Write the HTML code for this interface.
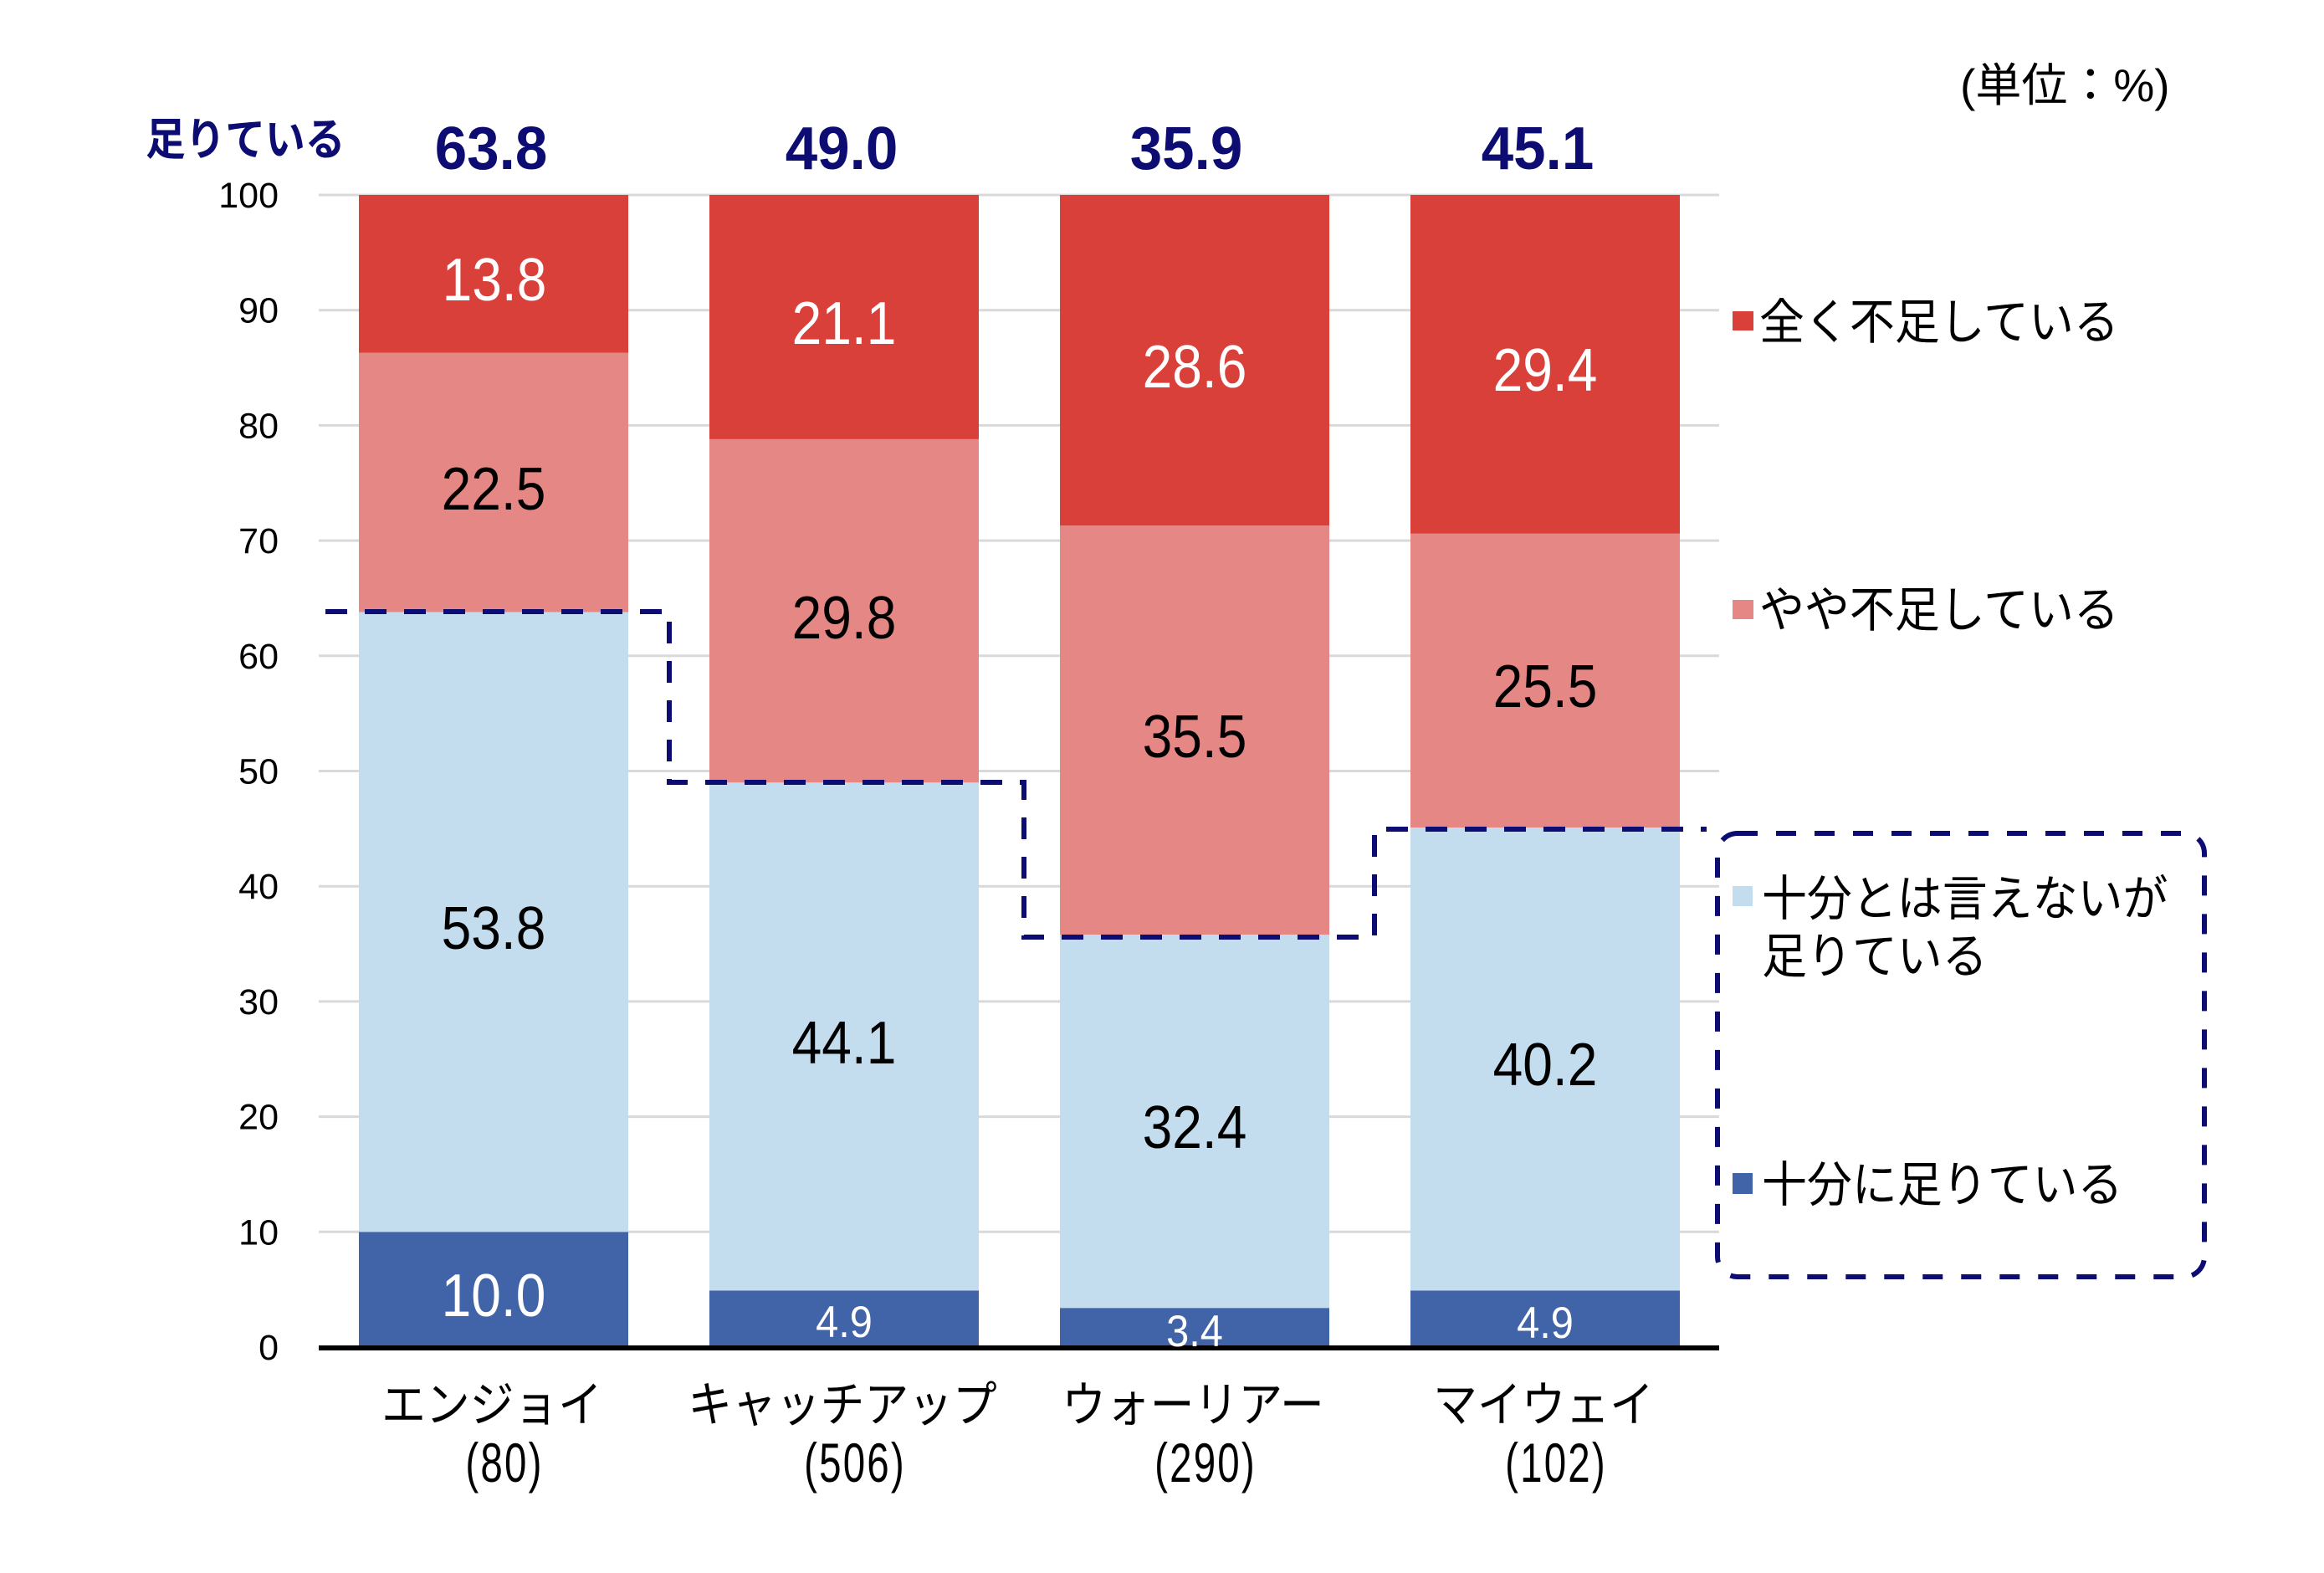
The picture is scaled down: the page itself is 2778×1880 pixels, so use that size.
<!DOCTYPE html>
<html>
<head>
<meta charset="utf-8">
<style>
  html,body{margin:0;padding:0;background:#fff;}
  svg{display:block;}
  text{font-family:"Liberation Sans","Noto Sans CJK JP",sans-serif;}
</style>
</head>
<body>
<svg width="2778" height="1880" viewBox="0 0 2778 1880" xmlns="http://www.w3.org/2000/svg">
  <rect x="0" y="0" width="2778" height="1880" fill="#ffffff"/>

  <!-- gridlines -->
  <g stroke="#d9d9d9" stroke-width="3">
    <line x1="381" y1="233" x2="2055" y2="233"/>
    <line x1="381" y1="370.7" x2="2055" y2="370.7"/>
    <line x1="381" y1="508.4" x2="2055" y2="508.4"/>
    <line x1="381" y1="646.1" x2="2055" y2="646.1"/>
    <line x1="381" y1="783.8" x2="2055" y2="783.8"/>
    <line x1="381" y1="921.5" x2="2055" y2="921.5"/>
    <line x1="381" y1="1059.2" x2="2055" y2="1059.2"/>
    <line x1="381" y1="1196.9" x2="2055" y2="1196.9"/>
    <line x1="381" y1="1334.6" x2="2055" y2="1334.6"/>
    <line x1="381" y1="1472.3" x2="2055" y2="1472.3"/>
  </g>

  <!-- bars -->
  <!-- Bar 1 -->
  <rect x="429" y="1472.3" width="322" height="137.7" fill="#4163a7"/>
  <rect x="429" y="731.5" width="322" height="740.8" fill="#c3ddef"/>
  <rect x="429" y="421.7" width="322" height="309.8" fill="#e58885"/>
  <rect x="429" y="233" width="322" height="188.7" fill="#d9403a"/>
  <!-- Bar 2 -->
  <rect x="848" y="1542.5" width="322" height="67.5" fill="#4163a7"/>
  <rect x="848" y="935.3" width="322" height="607.2" fill="#c3ddef"/>
  <rect x="848" y="524.9" width="322" height="410.4" fill="#e58885"/>
  <rect x="848" y="233" width="322" height="291.9" fill="#d9403a"/>
  <!-- Bar 3 -->
  <rect x="1267" y="1563.2" width="322" height="46.8" fill="#4163a7"/>
  <rect x="1267" y="1117" width="322" height="446.2" fill="#c3ddef"/>
  <rect x="1267" y="628.2" width="322" height="488.8" fill="#e58885"/>
  <rect x="1267" y="233" width="322" height="395.2" fill="#d9403a"/>
  <!-- Bar 4 -->
  <rect x="1686" y="1542.5" width="322" height="67.5" fill="#4163a7"/>
  <rect x="1686" y="989" width="322" height="553.5" fill="#c3ddef"/>
  <rect x="1686" y="637.8" width="322" height="351.2" fill="#e58885"/>
  <rect x="1686" y="233" width="322" height="404.8" fill="#d9403a"/>

  <!-- x axis -->
  <line x1="381" y1="1611" x2="2055" y2="1611" stroke="#000" stroke-width="6"/>

  <!-- dashed outline -->
  <polyline points="389,731 800,731 800,935 1224,935 1224,1120 1643,1120 1643,991 2040,991"
    fill="none" stroke="#0c0c73" stroke-width="6" stroke-dasharray="26 21"/>

  <!-- legend dashed box -->
  <rect x="2053" y="996" width="582" height="530" rx="24" ry="24" fill="none"
    stroke="#0c0c73" stroke-width="6" stroke-dasharray="24 22"/>

  <!-- y tick labels -->
  <g font-size="43" fill="#000" text-anchor="end">
    <text x="333" y="248">100</text>
    <text x="333" y="385.7">90</text>
    <text x="333" y="523.4">80</text>
    <text x="333" y="661.1">70</text>
    <text x="333" y="798.8">60</text>
    <text x="333" y="936.5">50</text>
    <text x="333" y="1074.2">40</text>
    <text x="333" y="1211.9">30</text>
    <text x="333" y="1349.6">20</text>
    <text x="333" y="1487.3">10</text>
    <text x="333" y="1625">0</text>
  </g>

  <!-- data labels -->
  <g font-size="72" text-anchor="middle">
    <!-- bar 1 -->
    <text transform="translate(591,359) scale(0.89,1)" fill="#fff">13.8</text>
    <text transform="translate(590,609) scale(0.89,1)" fill="#000">22.5</text>
    <text transform="translate(590,1134) scale(0.89,1)" fill="#000">53.8</text>
    <text transform="translate(590,1573) scale(0.89,1)" fill="#fff">10.0</text>
    <!-- bar 2 -->
    <text transform="translate(1009,411) scale(0.89,1)" fill="#fff">21.1</text>
    <text transform="translate(1009,763) scale(0.89,1)" fill="#000">29.8</text>
    <text transform="translate(1009,1271) scale(0.89,1)" fill="#000">44.1</text>
    <!-- bar 3 -->
    <text transform="translate(1428,463) scale(0.89,1)" fill="#fff">28.6</text>
    <text transform="translate(1428,905) scale(0.89,1)" fill="#000">35.5</text>
    <text transform="translate(1428,1372) scale(0.89,1)" fill="#000">32.4</text>
    <!-- bar 4 -->
    <text transform="translate(1847,467) scale(0.89,1)" fill="#fff">29.4</text>
    <text transform="translate(1847,845) scale(0.89,1)" fill="#000">25.5</text>
    <text transform="translate(1847,1297) scale(0.89,1)" fill="#000">40.2</text>
  </g>
  <g font-size="53" text-anchor="middle" fill="#fff">
    <text transform="translate(1009,1598) scale(0.92,1)">4.9</text>
    <text transform="translate(1428,1609) scale(0.92,1)">3.4</text>
    <text transform="translate(1847,1599) scale(0.92,1)">4.9</text>
  </g>

  <!-- top totals -->
  <g font-size="72" font-weight="bold" fill="#0c0c73" text-anchor="middle">
    <text transform="translate(587,202) scale(0.96,1)">63.8</text>
    <text transform="translate(1006,202) scale(0.96,1)">49.0</text>
    <text transform="translate(1418,202) scale(0.96,1)">35.9</text>
    <text transform="translate(1838,202) scale(0.96,1)">45.1</text>
  </g>
  <text transform="translate(174,185) scale(0.9,1)" font-size="53" font-weight="bold" fill="#0c0c73">足りている</text>

  <!-- unit -->
  <text x="2343" y="121" font-size="55" fill="#000">(単位：%)</text>

  <!-- category labels -->
  <g font-size="58" fill="#000" text-anchor="middle">
    <text transform="translate(588,1699) scale(0.91,1)">エンジョイ</text>
    <text transform="translate(1007,1699) scale(0.91,1)">キャッチアップ</text>
    <text transform="translate(1426,1699) scale(0.91,1)">ウォーリアー</text>
    <text transform="translate(1845,1699) scale(0.91,1)">マイウェイ</text>
  </g>
  <g font-size="66" fill="#000" text-anchor="middle" letter-spacing="3">
    <text transform="translate(603,1771) scale(0.72,1)">(80)</text>
    <text transform="translate(1022,1771) scale(0.72,1)">(506)</text>
    <text transform="translate(1441,1771) scale(0.72,1)">(290)</text>
    <text transform="translate(1860,1771) scale(0.72,1)">(102)</text>
  </g>

  <!-- legend -->
  <rect x="2071" y="372" width="25" height="23" fill="#d9403a"/>
  <text transform="translate(2103,405) scale(0.93,1)" font-size="58" fill="#000">全く不足している</text>

  <rect x="2071" y="717" width="25" height="23" fill="#e58885"/>
  <text transform="translate(2103,749) scale(0.93,1)" font-size="58" fill="#000">やや不足している</text>

  <rect x="2071" y="1059" width="24" height="24" fill="#c3ddef"/>
  <text transform="translate(2106,1094) scale(0.93,1)" font-size="58" fill="#000">十分とは言えないが</text>
  <text transform="translate(2106,1163) scale(0.93,1)" font-size="58" fill="#000">足りている</text>

  <rect x="2071" y="1402" width="24" height="25" fill="#4163a7"/>
  <text transform="translate(2106,1436) scale(0.93,1)" font-size="58" fill="#000">十分に足りている</text>
</svg>
</body>
</html>
